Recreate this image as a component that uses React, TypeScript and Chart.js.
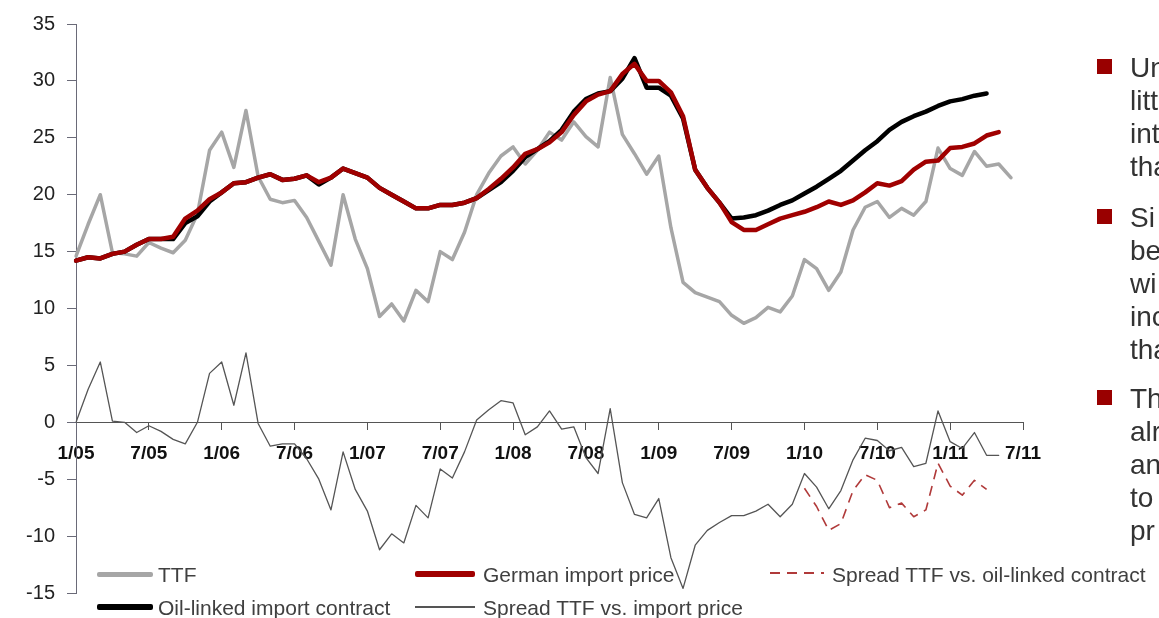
import { useEffect, useRef } from 'react';
import { Chart, registerables } from 'chart.js';

Chart.register(...registerables);

const categories = [
  '1/05', '2/05', '3/05', '4/05', '5/05', '6/05', '7/05', '8/05', '9/05', '10/05', '11/05', '12/05',
  '1/06', '2/06', '3/06', '4/06', '5/06', '6/06', '7/06', '8/06', '9/06', '10/06', '11/06', '12/06',
  '1/07', '2/07', '3/07', '4/07', '5/07', '6/07', '7/07', '8/07', '9/07', '10/07', '11/07', '12/07',
  '1/08', '2/08', '3/08', '4/08', '5/08', '6/08', '7/08', '8/08', '9/08', '10/08', '11/08', '12/08',
  '1/09', '2/09', '3/09', '4/09', '5/09', '6/09', '7/09', '8/09', '9/09', '10/09', '11/09', '12/09',
  '1/10', '2/10', '3/10', '4/10', '5/10', '6/10', '7/10', '8/10', '9/10', '10/10', '11/10', '12/10',
  '1/11', '2/11', '3/11', '4/11', '5/11', '6/11', '7/11',
];

const xTickLabels = ['1/05', '7/05', '1/06', '7/06', '1/07', '7/07', '1/08', '7/08', '1/09', '7/09', '1/10', '7/10', '1/11', '7/11'];

const ttf = [
  14.6, 17.4, 20.0, 14.9, 14.8, 14.6, 15.8, 15.3, 14.9, 16.0,
  18.3, 23.9, 25.5, 22.4, 27.4, 21.6, 19.6, 19.3, 19.5, 18.0,
  15.9, 13.8, 20.0, 16.1, 13.5, 9.3, 10.4, 8.9, 11.6, 10.6,
  15.0, 14.3, 16.7, 20.0, 21.9, 23.4, 24.2, 22.7, 23.9, 25.5,
  24.8, 26.4, 25.1, 24.2, 30.3, 25.3, 23.6, 21.8, 23.4, 17.1,
  12.3, 11.4, 11.0, 10.6, 9.4, 8.7, 9.2, 10.1, 9.7, 11.1,
  14.3, 13.5, 11.6, 13.2, 16.9, 18.9, 19.4, 18.0, 18.8, 18.2,
  19.4, 24.1, 22.3, 21.7, 23.8, 22.5, 22.7, 21.5,
];

const germanImport = [
  14.2, 14.5, 14.4, 14.8, 15.0, 15.6, 16.1, 16.1, 16.3, 17.9,
  18.6, 19.6, 20.2, 21.0, 21.1, 21.5, 21.8, 21.3, 21.4, 21.7,
  21.1, 21.5, 22.3, 21.9, 21.5, 20.6, 20.0, 19.4, 18.8, 18.8,
  19.1, 19.1, 19.3, 19.7, 20.5, 21.4, 22.4, 23.6, 24.0, 24.6,
  25.5, 27.0, 28.2, 28.8, 29.1, 30.6, 31.5, 30.0, 30.0, 29.0,
  26.9, 22.2, 20.6, 19.3, 17.6, 16.9, 16.9, 17.4, 17.9, 18.2,
  18.5, 18.9, 19.4, 19.1, 19.5, 20.2, 21.0, 20.8, 21.2, 22.2,
  22.9, 23.0, 24.1, 24.2, 24.5, 25.2, 25.5,
];

const oilLinked = [
  14.2, 14.5, 14.4, 14.8, 15.0, 15.6, 16.1, 16.1, 16.1, 17.5,
  18.1, 19.4, 20.2, 21.0, 21.1, 21.5, 21.8, 21.3, 21.4, 21.7,
  20.9, 21.5, 22.3, 21.9, 21.5, 20.6, 20.0, 19.4, 18.8, 18.8,
  19.1, 19.1, 19.3, 19.7, 20.4, 21.1, 22.1, 23.3, 24.0, 24.7,
  25.7, 27.3, 28.4, 28.9, 29.1, 30.2, 32.0, 29.4, 29.4, 28.7,
  26.7, 22.2, 20.6, 19.3, 17.9, 18.0, 18.2, 18.6, 19.1, 19.5,
  20.1, 20.7, 21.4, 22.1, 23.0, 23.9, 24.7, 25.7, 26.4, 26.9,
  27.3, 27.8, 28.2, 28.4, 28.7, 28.9,
];

const spreadImport = [
  0, 2.9, 5.3, 0.1, 0, -0.9, -0.3, -0.8, -1.5, -1.9,
  0, 4.3, 5.3, 1.5, 6.1, -0.1, -2.1, -1.9, -1.9, -3.2,
  -5.0, -7.7, -2.6, -5.9, -7.8, -11.2, -9.8, -10.6, -7.3, -8.4,
  -4.1, -4.9, -2.6, 0.2, 1.1, 1.9, 1.7, -1.1, -0.4, 1.0,
  -0.6, -0.4, -3.1, -4.5, 1.2, -5.3, -8.1, -8.4, -6.7, -11.9,
  -14.6, -10.8, -9.5, -8.8, -8.2, -8.2, -7.8, -7.2, -8.3, -7.2,
  -4.5, -5.7, -7.6, -6.0, -3.3, -1.4, -1.6, -2.5, -2.2, -3.9,
  -3.6, 1.0, -1.7, -2.3, -0.9, -2.9, -2.9,
];

const spreadOilMonths = [
  '1/10', '2/10', '3/10', '4/10', '5/10', '6/10', '7/10', '8/10', '9/10', '10/10', '11/10', '12/10',
  '1/11', '2/11', '3/11', '4/11',
];
const spreadOil = [
  -5.8, -7.4, -9.5, -8.9, -6.0, -4.6, -5.1, -7.5, -7.1, -8.3, -7.7, -3.6,
  -5.6, -6.4, -5.1, -5.9,
];

const bulletLines = [
  ['Un', 'litt', 'int', 'tha'],
  ['Si', 'be', 'wi', 'inc', 'tha'],
  ['Th', 'alr', 'an', 'to', 'pr'],
];

const FONT = '"Liberation Sans", Arial, Helvetica, sans-serif';

export default function App() {
  const ref = useRef<HTMLCanvasElement>(null);

  useEffect(() => {
    if (!ref.current) return;
    const chart = new Chart(ref.current, {
      type: 'line',
      data: {
        labels: categories,
        datasets: [
          {
            label: 'German import price',
            data: germanImport,
            borderColor: '#a00000',
            borderWidth: 4.5,
            order: 1,
          },
          {
            label: 'Oil-linked import contract',
            data: oilLinked,
            borderColor: '#000000',
            borderWidth: 4.5,
            order: 2,
          },
          {
            label: 'TTF',
            data: ttf,
            borderColor: '#a6a6a6',
            borderWidth: 3.5,
            order: 3,
          },
          {
            label: 'Spread TTF vs. import price',
            data: spreadImport,
            borderColor: '#555555',
            borderWidth: 1.3,
            order: 4,
          },
          {
            label: 'Spread TTF vs. oil-linked contract',
            data: spreadOil.map((v, k) => ({ x: spreadOilMonths[k], y: v })),
            borderColor: '#b03a3a',
            borderWidth: 1.6,
            borderDash: [10, 7],
            borderCapStyle: 'butt',
            order: 5,
          },
        ] as any,
      },
      options: {
        responsive: false,
        animation: false,
        devicePixelRatio: 1,
        layout: { padding: { left: 0, right: 136, top: 20, bottom: 25 } },
        elements: {
          point: { radius: 0, hoverRadius: 0 },
          line: { tension: 0, borderJoinStyle: 'round', borderCapStyle: 'round', fill: false },
        },
        plugins: { legend: { display: false }, tooltip: { enabled: false } },
        events: [],
        scales: {
          x: {
            type: 'category',
            position: { y: 0 } as any,
            offset: false,
            grid: {
              drawOnChartArea: false,
              drawTicks: true,
              tickLength: 7,
              color: '#555555',
              tickColor: '#555555',
            },
            border: { display: true, color: '#555555', width: 1 },
            ticks: {
              autoSkip: false,
              maxRotation: 0,
              minRotation: 0,
              padding: 13,
              color: '#111111',
              font: { family: FONT, size: 19, weight: 'bold' },
              callback: (_v: any, idx: number) => {
                const lab = categories[idx];
                return xTickLabels.includes(lab) ? lab : null;
              },
            },
          },
          y: {
            type: 'linear',
            min: -15,
            max: 35,
            grid: {
              drawOnChartArea: false,
              drawTicks: true,
              tickLength: 9,
              color: '#6a6a78',
              tickColor: '#6a6a78',
            },
            border: { display: true, color: '#6a6a78', width: 1 },
            ticks: {
              stepSize: 5,
              padding: 12,
              color: '#222222',
              font: { family: FONT, size: 20 },
            },
            afterFit: (s: any) => {
              s.width = 76;
            },
          },
        },
      } as any,
    });
    return () => chart.destroy();
  }, []);

  const legendText: any = {
    position: 'absolute',
    fontFamily: FONT,
    fontSize: 21,
    lineHeight: '24px',
    height: 24,
    color: '#404040',
    whiteSpace: 'nowrap',
  };

  const textTops = [51, 201, 382];
  const squareTops = [59, 209, 390];

  return (
    <div
      style={{
        position: 'fixed',
        left: 0,
        top: 0,
        width: 1159,
        height: 618,
        overflow: 'hidden',
        background: '#ffffff',
      }}
    >
      <canvas ref={ref} width={1159} height={618} style={{ position: 'absolute', left: 0, top: 0, width: 1159, height: 618 }} />

      {/* legend row 1 */}
      <div style={{ position: 'absolute', left: 97, top: 572, width: 56, height: 5, background: '#a6a6a6', borderRadius: 2 }} />
      <div style={{ ...legendText, left: 158, top: 563 }}>TTF</div>
      <div style={{ position: 'absolute', left: 415, top: 571, width: 60, height: 6, background: '#a00000', borderRadius: 2 }} />
      <div style={{ ...legendText, left: 483, top: 563 }}>German import price</div>
      <div
        style={{
          position: 'absolute',
          left: 770,
          top: 572,
          width: 54,
          height: 2,
          background: 'repeating-linear-gradient(90deg, #b03a3a 0px, #b03a3a 10px, transparent 10px, transparent 17px)',
        }}
      />
      <div style={{ ...legendText, left: 832, top: 563 }}>Spread TTF vs. oil-linked contract</div>

      {/* legend row 2 */}
      <div style={{ position: 'absolute', left: 97, top: 604, width: 56, height: 6, background: '#000000', borderRadius: 2 }} />
      <div style={{ ...legendText, left: 158, top: 596 }}>Oil-linked import contract</div>
      <div style={{ position: 'absolute', left: 415, top: 606, width: 60, height: 1.5, background: '#555555' }} />
      <div style={{ ...legendText, left: 483, top: 596 }}>Spread TTF vs. import price</div>

      {/* right-hand bullet text (cut off at the picture edge) */}
      {bulletLines.map((lines, p) => (
        <div key={p}>
          <div style={{ position: 'absolute', left: 1097, top: squareTops[p], width: 15, height: 15, background: '#990000' }} />
          <div
            style={{
              position: 'absolute',
              left: 1130,
              top: textTops[p],
              fontFamily: FONT,
              fontSize: 28,
              lineHeight: '33px',
              color: '#333333',
              whiteSpace: 'nowrap',
            }}
          >
            {lines.map((l, k) => (
              <div key={k}>{l}</div>
            ))}
          </div>
        </div>
      ))}
    </div>
  );
}
